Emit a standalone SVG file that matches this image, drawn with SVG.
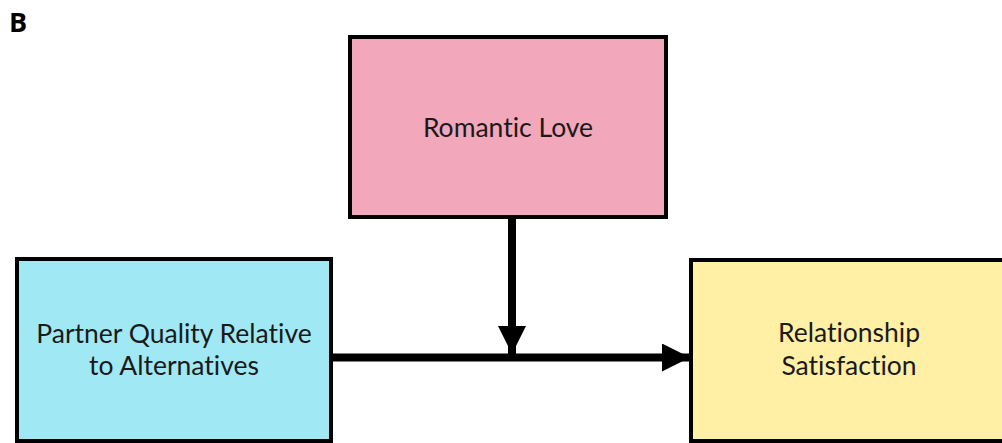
<svg xmlns="http://www.w3.org/2000/svg" width="1002" height="443" viewBox="0 0 1002 443">
<style>
.box{stroke:#000;stroke-width:4}
.lbl{font-family:Lato,"Open Sans",sans-serif;font-size:26.5px;fill:#1a1a1a;text-anchor:middle;font-variant-ligatures:none}
.conn{stroke:#000;stroke-width:8;fill:none}
</style>
<defs>
<marker id="ah" markerUnits="userSpaceOnUse" markerWidth="28" markerHeight="28" viewBox="0 0 28 28" refX="28" refY="14" orient="auto">
<path d="M0,0 L28,14 L0,28 Z" fill="#000"/>
</marker>
</defs>
<rect width="1002" height="443" fill="#fff"/>
<text x="9" y="32" font-family="'Open Sans',Lato,sans-serif" font-weight="bold" font-size="27" fill="#000">B</text>
<g id="romantic-love">
<rect class="box" x="350" y="37" width="316" height="180" fill="#F2A7BA"/>
<text class="lbl" x="508" y="137">Romantic Love</text>
</g>
<g id="partner-quality">
<rect class="box" x="17" y="259" width="314" height="182" fill="#A0E8F4"/>
<text class="lbl" x="174" y="343">Partner Quality Relative</text>
<text class="lbl" x="174" y="375">to Alternatives</text>
</g>
<g id="relationship-satisfaction">
<rect class="box" x="691" y="260" width="330" height="181" fill="#FFF0A5"/>
<text class="lbl" x="849" y="342">Relationship</text>
<text class="lbl" x="849" y="375">Satisfaction</text>
</g>
<g id="connectors">
<line class="conn" x1="333" y1="357.5" x2="690" y2="357.5" marker-end="url(#ah)"/>
<line class="conn" x1="512" y1="219" x2="512" y2="354" marker-end="url(#ah)"/>
</g>
</svg>
